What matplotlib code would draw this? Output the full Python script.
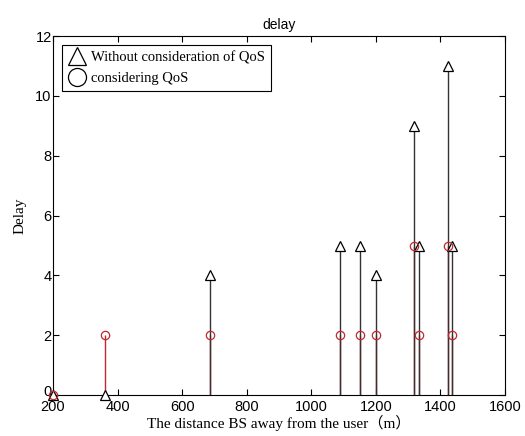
import numpy as np
import matplotlib
matplotlib.use("Agg")
import matplotlib.pyplot as plt
import matplotlib.transforms as mtrans
from matplotlib.lines import Line2D

# distancias (m) y retardos
dist = [200, 362, 687, 1088, 1152, 1199, 1318, 1333, 1424, 1437]
delay_sin_qos = [0, 0, 4, 5, 5, 4, 9, 5, 11, 5]
delay_con_qos = [0, 2, 2, 2, 2, 2, 5, 2, 5, 2]
xticks = [200, 400, 600, 800, 1000, 1200, 1400, 1600]
yticks = [0, 2, 4, 6, 8, 10, 12]

serif = ['Liberation Serif', 'Noto Sans CJK SC']
plt.rcParams['font.family'] = ['Liberation Sans', 'DejaVu Sans']

fig = plt.figure(figsize=(5.25, 4.36), dpi=100)
ax = fig.add_axes([0.101, 0.094, 0.861, 0.823])

rojo = '#c0282e'

# tallos rojos primero, luego los negros encima
ax.vlines(dist, 0, delay_con_qos, color=rojo, lw=1.0, zorder=2)
ax.vlines(dist, 0, delay_sin_qos, color='#333333', lw=1.0, zorder=3)
ax.plot(dist, delay_sin_qos, ls='none', marker='^', ms=6.5, mfc='white',
        mec='black', mew=0.9, zorder=4, clip_on=False)
ax.plot(dist, delay_con_qos, ls='none', marker='o', ms=6, mfc='none',
        mec=rojo, mew=0.9, zorder=5, clip_on=False)

ax.set_xlim(200, 1600)
ax.set_ylim(0, 12)
ax.set_xticks(xticks)
ax.set_yticks(yticks)
ax.tick_params(direction='in', top=True, right=True, length=4.5,
               labelsize=10.5)
ax.tick_params(axis='x', pad=3.5)
ax.tick_params(axis='y', pad=1)
for s in ax.spines.values():
    s.set_linewidth(0.8)

# subir un poco el "0" para que no choque con el "200"
lbl0 = ax.get_yticklabels()[0]
lbl0.set_transform(lbl0.get_transform() +
                   mtrans.ScaledTranslation(0, 3 / 72, fig.dpi_scale_trans))

ax.set_title('delay', fontsize=10, pad=5)
ax.set_ylabel('Delay', family=serif, fontsize=11, labelpad=6)
ax.set_xlabel('The distance BS away from the user（m）', family=serif,
              fontsize=11, labelpad=1)

handles = [Line2D([], [], ls='none', marker='^', ms=13, mfc='white',
                  mec='black', mew=0.9),
           Line2D([], [], ls='none', marker='o', ms=13, mfc='white',
                  mec='black', mew=0.9)]
leg = ax.legend(handles, ['Without consideration of QoS', 'considering QoS'],
                loc='upper left', prop={'family': serif, 'size': 10.5},
                fancybox=False, framealpha=1, edgecolor='black',
                handletextpad=0.3, borderaxespad=0.6, labelspacing=0.55,
                handlelength=1.3, borderpad=0.4)
leg.get_frame().set_linewidth(0.8)

fig.savefig('out.png', dpi=100)
